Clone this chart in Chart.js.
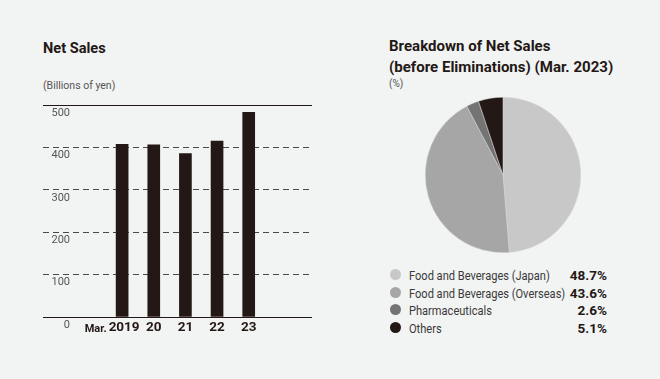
<!DOCTYPE html>
<html>
<head>
<meta charset="utf-8">
<script src="https://cdn.jsdelivr.net/npm/chart.js"></script>
<style>
    body {
        margin: 0;
        width: 660px;
        height: 379px;
        overflow: hidden;
        position: relative;
        background: #f2f3f3;
        color: #231815;
        font-family: Roboto, "Liberation Sans", sans-serif;
    }
    .abs { position: absolute; white-space: nowrap; }
    .title { font-weight: bold; }
    .unit { font-size: 10.5px; color: #555; line-height: 14px; }
    .legend-row { position: absolute; left: 390px; width: 217px; height: 18px; line-height: 18px; color: #3a3a3a; }
    .legend-row .dot { position: absolute; left: 0; top: 3px; width: 11px; height: 11px; border-radius: 50%; }
    .legend-row .name { position: absolute; left: 19px; font-size: 13.5px; transform: scaleX(0.82); transform-origin: 0 50%; }
    .legend-row .val { position: absolute; right: 0; font-size: 13.5px; font-weight: bold; color: #231815; }
    #salesChart { position: absolute; left: 0; top: 0; }
    #pieChart { position: absolute; left: 425px; top: 97px; }
</style>
</head>
<body>
<div class="abs title" style="left:43px; top:38px; font-size:15.5px; line-height:20px; transform:scaleX(0.94); transform-origin:0 50%;">Net Sales</div>
<div class="abs unit" style="left:43px; top:79px;">(Billions of yen)</div>

<div class="abs title" style="left:389px; top:36px; font-size:15.5px; line-height:21px; transform:scaleX(0.97); transform-origin:0 50%;">Breakdown of Net Sales<br>(before Eliminations) (Mar. 2023)</div>
<div class="abs unit" style="left:389px; top:77px; font-size:10px;">(%)</div>

<canvas id="salesChart" width="330" height="379"></canvas>
<canvas id="pieChart" width="156" height="156"></canvas>
<div id="legend"></div>

<script>
const years = ['2019', '20', '21', '22', '23'];
const yearPrefix = 'Mar.';
const netSales = [407.0, 406.0, 385.7, 415.1, 483.0];
const yTicks = [0, 100, 200, 300, 400, 500];

const segments = ['Food and Beverages (Japan)', 'Food and Beverages (Overseas)', 'Pharmaceuticals', 'Others'];
const shares = [48.7, 43.6, 2.6, 5.1];
const segmentColors = ['#c8c8c8', '#a6a6a6', '#747474', '#231815'];

const FONT = 'Roboto, "Liberation Sans", sans-serif';

// tick labels sit just under their grid lines, so draw them by hand
const axisLabels = {
    id: 'axisLabels',
    afterDraw(chart) {
        const { ctx, scales: { x, y } } = chart;
        ctx.save();
        ctx.textBaseline = 'middle';
        ctx.fillStyle = '#555';
        ctx.font = '11px ' + FONT;
        ctx.textAlign = 'right';
        yTicks.forEach(t => ctx.fillText(String(t), 70, y.getPixelForValue(t) + 8));

        ctx.fillStyle = '#231815';
        ctx.font = 'bold 13.5px ' + FONT;
        ctx.textAlign = 'center';
        years.forEach((yr, i) => ctx.fillText(yr, x.getPixelForValue(i) + (i === 0 ? 2 : 0), 328));
        const w = ctx.measureText(years[0]).width;
        ctx.font = 'bold 11px ' + FONT;
        ctx.textAlign = 'right';
        ctx.fillText(yearPrefix, x.getPixelForValue(0) + 2 - w / 2 - 2, 329);
        ctx.restore();
    }
};

new Chart(document.getElementById('salesChart'), {
    type: 'bar',
    data: {
        datasets: [{
            data: netSales.map((v, i) => ({ x: i, y: v })),
            backgroundColor: '#231815',
            barThickness: 12
        }]
    },
    options: {
        responsive: false,
        animation: false,
        devicePixelRatio: 1,
        layout: { padding: { left: 43, top: 105, right: 18, bottom: 62 } },
        plugins: { legend: { display: false }, tooltip: { enabled: false } },
        scales: {
            x: { type: 'linear', min: -2.5, max: 6, offset: false, display: false },
            y: {
                min: 0,
                max: 500,
                ticks: { stepSize: 100, display: false },
                grid: {
                    drawTicks: false,
                    lineWidth: 1,
                    color: ctx => (ctx.tick && ctx.tick.value % 500 === 0) ? '#231815' : '#4a4a4a'
                },
                border: {
                    display: false,
                    dash: ctx => (ctx.tick && ctx.tick.value % 500 === 0) ? [] : [6, 4]
                }
            }
        }
    },
    plugins: [axisLabels]
});

new Chart(document.getElementById('pieChart'), {
    type: 'pie',
    data: {
        labels: segments,
        datasets: [{
            data: shares,
            backgroundColor: segmentColors,
            borderColor: '#d8d8d8',
            borderWidth: 0.5
        }]
    },
    options: {
        responsive: false,
        animation: false,
        devicePixelRatio: 1,
        plugins: { legend: { display: false }, tooltip: { enabled: false } }
    }
});

// legend rows
const legend = document.getElementById('legend');
const rowTops = [266, 284, 301, 319];
segments.forEach((name, i) => {
    const row = document.createElement('div');
    row.className = 'legend-row';
    row.style.top = rowTops[i] + 'px';
    row.innerHTML = '<span class="dot" style="background:' + segmentColors[i] + '"></span>' +
        '<span class="name">' + name + '</span>' +
        '<span class="val">' + shares[i].toFixed(1) + '%</span>';
    legend.appendChild(row);
});
</script>
</body>
</html>
